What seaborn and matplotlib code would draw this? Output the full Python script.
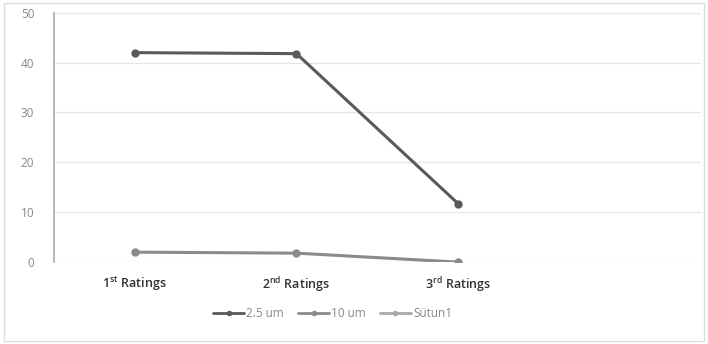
import pandas as pd
import matplotlib.pyplot as plt
import seaborn as sns
from matplotlib.lines import Line2D

# Values
categories = [r'1$^{\mathregular{st}}$ Ratings', r'2$^{\mathregular{nd}}$ Ratings',
              r'3$^{\mathregular{rd}}$ Ratings', '']
series_names = ['2.5 um', '10 um', 'Sütun1']
vals_25um = [42.0, 41.8, 11.7, None]
vals_10um = [2.0, 1.8, 0.0, None]
vals_sutun1 = [None, None, None, None]
y_ticks = [0, 10, 20, 30, 40, 50]
colors = ['#5a5a5a', '#8a8a8a', '#a8a8a8']

df = pd.DataFrame({
    'cat': list(range(len(categories))) * 3,
    'value': vals_25um + vals_10um + vals_sutun1,
    'series': [s for s in series_names for _ in categories],
})

sns.set_style('white')
plt.rcParams['font.family'] = ['Open Sans', 'DejaVu Sans']

fig = plt.figure(figsize=(7.08, 3.44), dpi=100)
ax = fig.add_axes([0.076, 0.238, 0.914, 0.725])

for name, col in zip(series_names, colors):
    part = df[(df['series'] == name)].dropna()
    if len(part):
        sns.lineplot(data=part, x='cat', y='value', color=col, marker='o',
                     markersize=6, linewidth=2.2, markeredgewidth=0, ax=ax, legend=False)

ax.set_xlim(-0.5, len(categories) - 0.5)
ax.set_ylim(0, 50)
ax.set_yticks(y_ticks)
ax.set_xticks(range(len(categories)))
ax.set_xticklabels(categories, fontsize=9, color='#333333', fontweight='semibold')
ax.tick_params(axis='y', labelsize=8.5, colors='#888888', length=0, pad=14)
ax.tick_params(axis='x', length=0, pad=9)
ax.set_xlabel('')
ax.set_ylabel('')
ax.grid(axis='y', color='#e6e6e6', linewidth=1)
for s in ['top', 'right', 'bottom']:
    ax.spines[s].set_visible(False)
ax.spines['left'].set_color('#aaaaaa')
ax.spines['left'].set_linewidth(1.2)

handles = [Line2D([], [], color=c, marker='o', markersize=4, linewidth=2, markeredgewidth=0)
           for c in colors]
fig.legend(handles, series_names, loc='center', bbox_to_anchor=(0.47, 0.088), ncol=3,
           frameon=False, fontsize=8.5, labelcolor='#888888', handlelength=2.6,
           handletextpad=0.2, columnspacing=1.2)

# light outer frame like the Excel chart area
fig.patches.append(plt.Rectangle((0.006, 0.01), 0.988, 0.98, transform=fig.transFigure,
                                 fill=False, edgecolor='#dddddd', linewidth=1))

plt.savefig('out.png', dpi=100)
